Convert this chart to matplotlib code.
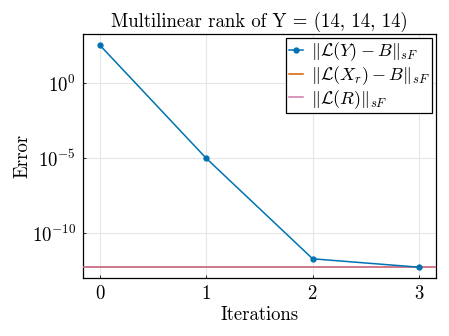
import matplotlib
matplotlib.use("Agg")
import matplotlib.pyplot as plt
from matplotlib.ticker import FixedLocator, LogFormatterMathtext, NullLocator

plt.rcParams['font.family'] = 'serif'
plt.rcParams['font.serif'] = ['cmr10']
plt.rcParams['mathtext.fontset'] = 'cm'
plt.rcParams['axes.formatter.use_mathtext'] = True

# data
iterations = [0, 1, 2, 3]
err_Y = [3.5e2, 1.0e-5, 2.0e-12, 5.5e-13]
err_Xr = 5.5e-13
err_R = 5.5e-13

blue = '#0072B2'
orange = '#D55E00'
pink = '#CC79A7'

fig = plt.figure(figsize=(4.49, 3.36), dpi=100)
ax = fig.add_axes([83/449, 1 - 278/336, (436 - 83)/449, (278 - 34)/336])

ax.plot(iterations, err_Y, '-o', color=blue, lw=1.1, ms=3.5,
        label=r'$\Vert\mathcal{L}(Y) - B\Vert_{sF}$', zorder=4)
ax.axhline(err_Xr, color=orange, lw=1.1, label=r'$\Vert\mathcal{L}(X_r) - B\Vert_{sF}$', zorder=2)
ax.axhline(err_R, color=pink, lw=1.1, label=r'$\Vert\mathcal{L}(R)\Vert_{sF}$', zorder=3)

ax.set_yscale('log')
ax.set_ylim(10**-12.98, 10**3.3)
ax.set_xlim(-0.16, 3.16)
ax.yaxis.set_major_locator(FixedLocator([1e0, 1e-5, 1e-10]))
ax.yaxis.set_major_formatter(LogFormatterMathtext())
ax.yaxis.set_minor_locator(NullLocator())
ax.set_xticks(iterations)

ax.grid(True, color='#e6e6e6', lw=0.8)
ax.set_axisbelow(True)
for s in ax.spines.values():
    s.set_linewidth(0.9)
ax.tick_params(labelsize=13.5, direction='in', length=2, width=0.6, pad=5)

ax.set_title('Multilinear rank of Y = (14, 14, 14)', fontsize=13.5, pad=5)
ax.set_xlabel('Iterations', fontsize=13.5, labelpad=2)
ax.set_ylabel('Error', fontsize=13.5, labelpad=0)

leg = ax.legend(loc='upper right', bbox_to_anchor=(432/449, 1 - 38/336),
                bbox_transform=fig.transFigure, fontsize=13, fancybox=False,
                framealpha=1, edgecolor='black', borderaxespad=0, handlelength=0.8,
                borderpad=0.15, labelspacing=0.05, handletextpad=0.4)
leg.get_frame().set_linewidth(0.9)

fig.savefig('out.png', dpi=100)
